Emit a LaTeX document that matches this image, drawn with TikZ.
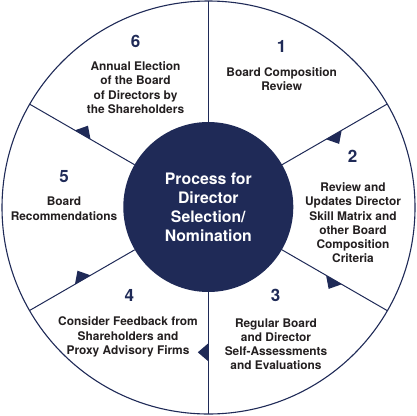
\documentclass[tikz,border=0pt]{standalone}
\usepackage{fontspec}
\setmainfont{TeX Gyre Heros}
\definecolor{navy}{RGB}{31,42,87}
\definecolor{ink}{RGB}{35,31,32}
\tikzset{
  stagenum/.style={text=navy,font=\fontsize{17}{17}\selectfont\bfseries},
  stagetext/.style={text=ink,align=center,font=\fontsize{11.9}{14.3}\selectfont\bfseries},
}
\begin{document}
\begin{tikzpicture}[x=1pt,y=-1pt]
  \useasboundingbox (0,0) rectangle (417,415);
  \draw[navy,line width=1.1pt] (208.5,207.5) circle[radius=206.5];
  \node[circle,fill=navy,minimum size=170pt,inner sep=0pt,text=white,align=center,
    font=\fontsize{15.8}{19}\selectfont\bfseries] (hub) at (208.3,207)
    {Process for\\Director\\Selection/\\Nomination};
  % Spokes between the stages.
  \foreach \a in {90,30,-30,-90,-150,150} {
    \begin{scope}[shift={(208.3,207.3)},rotate=\a]
      \draw[navy,line width=1pt] (85,0) -- (206.5,0);
    \end{scope}
  }
  % Markers pointing clockwise, none on the top spoke.
  \foreach \a in {30,-30,-90,-150,150} {
    \begin{scope}[shift={(208.3,207.3)},rotate=\a]
      \fill[navy] (136,0) -- (154,0) -- (145,10.5) -- cycle;
    \end{scope}
  }
  \node[stagenum] (num1) at (281.7,46.7) {1};
  \node[stagenum] (num2) at (352.7,156.7) {2};
  \node[stagenum] (num3) at (275.7,295.7) {3};
  \node[stagenum] (num4) at (129.3,295.7) {4};
  \node[stagenum] (num5) at (64,176.7) {5};
  \node[stagenum] (num6) at (135.5,41) {6};
  \node[stagetext] (stage1) at (281.7,79.2) {Board Composition\\Review};
  \node[stagetext] (stage2) at (353,222.8) {Review and\\Updates Director\\Skill Matrix and\\other Board\\Composition\\Criteria};
  \node[stagetext] (stage3) at (276,344.2) {Regular Board\\and Director\\Self-Assessments\\and Evaluations};
  \node[stagetext] (stage4) at (128,337) {Consider Feedback from\\Shareholders and\\Proxy Advisory Firms};
  \node[stagetext] (stage5) at (64,208.8) {Board\\Recommendations};
  \node[stagetext] (stage6) at (135.5,87.5) {Annual Election\\of the Board\\of Directors by\\the Shareholders};
\end{tikzpicture}
\end{document}
